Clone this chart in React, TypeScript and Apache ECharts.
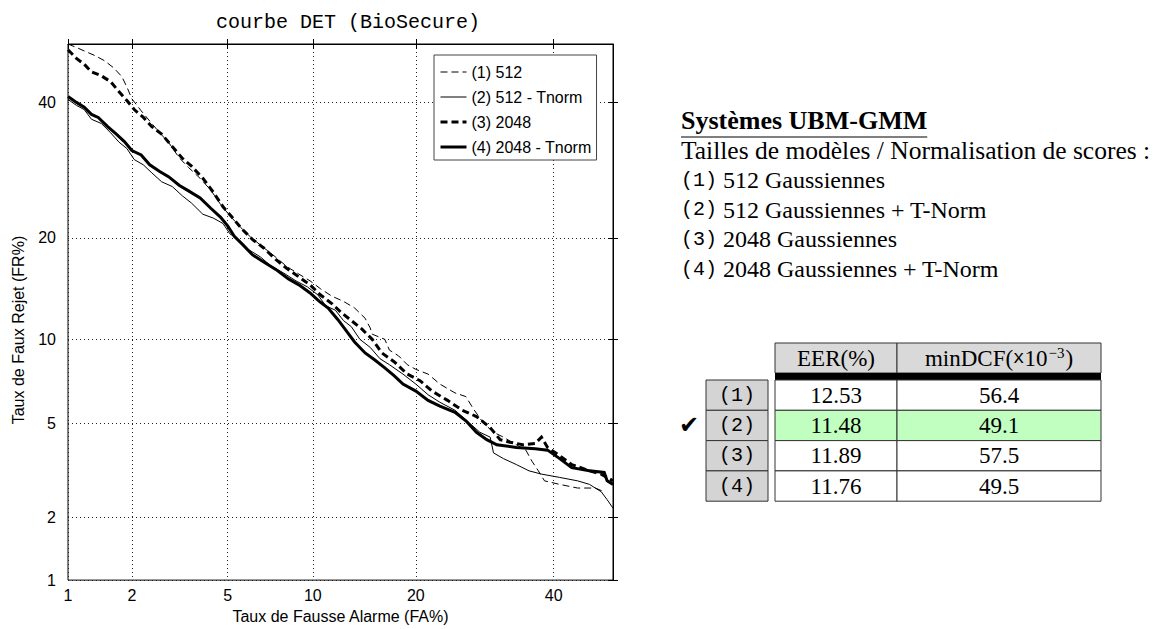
import React, { useEffect, useRef } from "react";
import * as echarts from "echarts";

// ---------- data ----------
const TITLE = "courbe DET (BioSecure)";
const X_NAME = "Taux de Fausse Alarme (FA%)";
const Y_NAME = "Taux de Faux Rejet (FR%)";
const TICKS_PCT = [1, 2, 5, 10, 20, 40];
const AXIS_MIN_PCT = 1;
const AXIS_MAX_PCT = 50;

const SERIES_NAMES = ["(1) 512", "(2) 512 - Tnorm", "(3) 2048", "(4) 2048 - Tnorm"];

// [FA %, FR %]
const CURVE_1 = [[1.0,50.0],[1.1,49.4],[1.2,48.8],[1.35,48.0],[1.5,47.1],[1.65,45.9],[1.8,44.4],[1.9,42.6],[2.0,40.6],[2.2,38.6],[2.4,36.9],[2.65,35.0],[2.9,33.4],[3.2,31.1],[3.5,29.6],[3.9,28.0],[4.3,26.3],[4.7,24.3],[5.1,22.8],[5.6,21.3],[6.1,20.1],[6.7,19.0],[7.4,17.9],[8.2,16.7],[9.0,15.9],[9.8,15.2],[10.6,14.4],[11.5,13.7],[12.5,13.2],[13.5,12.6],[14.5,11.7],[15.0,10.9],[15.2,10.4],[16.5,10.0],[17.0,9.2],[18.0,8.8],[19.0,8.2],[20.0,7.9],[21.5,7.6],[23.0,7.0],[25.0,6.5],[26.5,6.3],[27.5,5.7],[29.0,5.0],[30.5,4.6],[32.0,4.4],[34.0,4.1],[35.5,3.9],[36.5,3.5],[37.5,3.2],[38.5,2.9],[41.0,2.8],[44.0,2.7],[47.0,2.7],[48.5,2.6]];
const CURVE_2 = [[1.0,40.5],[1.1,39.5],[1.2,38.8],[1.3,37.2],[1.45,36.5],[1.6,35.0],[1.75,33.5],[1.9,32.5],[2.05,30.8],[2.25,30.0],[2.45,28.8],[2.7,27.5],[3.0,26.8],[3.3,25.5],[3.6,24.5],[4.0,23.0],[4.4,22.5],[4.8,21.8],[5.1,20.5],[5.5,19.8],[6.0,18.6],[6.6,17.8],[7.2,16.8],[8.0,16.0],[8.8,15.2],[9.6,14.6],[10.4,13.8],[11.0,12.8],[11.8,12.4],[12.5,11.5],[13.2,11.0],[14.0,10.0],[15.0,9.4],[16.0,8.6],[17.0,8.2],[18.5,7.6],[20.0,7.0],[21.5,6.4],[23.0,6.0],[25.0,5.6],[27.0,5.0],[28.5,4.6],[30.0,4.4],[30.5,3.8],[32.0,3.6],[34.0,3.4],[36.0,3.2],[38.0,3.1],[41.0,3.0],[44.0,2.9],[46.0,2.8],[48.0,2.6],[49.0,2.4],[50.0,2.2]];
const CURVE_3 = [[1.0,49.0],[1.1,47.5],[1.2,46.5],[1.3,45.2],[1.45,44.5],[1.6,43.5],[1.75,41.8],[1.9,40.3],[2.05,38.8],[2.25,37.5],[2.45,36.0],[2.7,34.8],[3.0,32.8],[3.3,31.0],[3.6,29.8],[4.0,28.0],[4.4,26.0],[4.8,24.0],[5.2,22.6],[5.7,21.0],[6.2,19.8],[6.8,18.8],[7.5,17.5],[8.2,16.5],[9.0,15.6],[9.8,14.8],[10.6,13.8],[11.5,13.0],[12.3,12.2],[13.2,11.5],[14.2,10.8],[15.2,10.0],[16.2,9.0],[17.5,8.4],[19.0,7.6],[20.5,7.2],[22.0,6.6],[24.0,6.1],[26.0,5.6],[28.0,5.3],[30.0,4.8],[31.5,4.3],[33.0,4.2],[35.0,4.1],[37.0,4.15],[38.0,4.4],[39.0,4.0],[41.0,3.7],[43.0,3.4],[46.0,3.2],[48.0,3.1],[50.0,2.9]];
const CURVE_4 = [[1.0,41.0],[1.1,40.0],[1.2,39.2],[1.3,38.0],[1.4,37.5],[1.55,36.0],[1.7,34.8],[1.85,33.6],[2.0,32.2],[2.2,31.5],[2.4,30.0],[2.65,29.0],[2.9,28.2],[3.2,27.0],[3.5,26.2],[3.9,25.2],[4.3,23.8],[4.7,22.6],[5.0,21.5],[5.3,20.2],[5.7,19.2],[6.2,18.0],[6.8,17.2],[7.5,16.4],[8.3,15.4],[9.0,14.8],[9.8,14.0],[10.5,13.2],[11.2,12.6],[12.0,11.6],[12.8,10.6],[13.5,9.8],[14.5,9.0],[15.5,8.5],[16.5,8.0],[17.5,7.5],[18.5,7.0],[20.0,6.6],[21.5,6.1],[23.0,5.8],[25.0,5.5],[26.5,5.1],[28.0,4.6],[29.5,4.3],[31.0,4.1],[34.0,4.0],[37.0,3.95],[39.0,3.9],[41.0,3.6],[43.0,3.3],[46.0,3.2],[48.5,3.15],[49.0,2.9],[50.0,2.8]];

const PANEL_TITLE = "Systèmes UBM-GMM";
const PANEL_SUBTITLE = "Tailles de modèles / Normalisation de scores :";
const ROW_IDS = ["(1)", "(2)", "(3)", "(4)"];
const ROW_DESC = ["512 Gaussiennes", "512 Gaussiennes + T-Norm", "2048 Gaussiennes", "2048 Gaussiennes + T-Norm"];
const EER_VALUES = ["12.53", "11.48", "11.89", "11.76"];
const MINDCF_VALUES = ["56.4", "49.1", "57.5", "49.5"];
const BEST_ROW = 1;

// ---------- helpers ----------
function probit(p: number): number {
  const a = [-3.969683028665376e1, 2.209460984245205e2, -2.759285104469687e2, 1.38357751867269e2, -3.066479806614716e1, 2.506628277459239];
  const b = [-5.447609879822406e1, 1.615858368580409e2, -1.556989798598866e2, 6.680131188771972e1, -1.328068155288572e1];
  const c = [-7.784894002430293e-3, -3.223964580411365e-1, -2.400758277161838, -2.549732539343734, 4.374664141464968, 2.938163982698783];
  const d = [7.784695709041462e-3, 3.224671290700398e-1, 2.445134137142996, 3.754408661907416];
  const plow = 0.02425;
  if (p < plow) {
    const q = Math.sqrt(-2 * Math.log(p));
    return (((((c[0] * q + c[1]) * q + c[2]) * q + c[3]) * q + c[4]) * q + c[5]) / ((((d[0] * q + d[1]) * q + d[2]) * q + d[3]) * q + 1);
  }
  if (p <= 1 - plow) {
    const q = p - 0.5;
    const r = q * q;
    return ((((((a[0] * r + a[1]) * r + a[2]) * r + a[3]) * r + a[4]) * r + a[5]) * q) / (((((b[0] * r + b[1]) * r + b[2]) * r + b[3]) * r + b[4]) * r + 1);
  }
  const q = Math.sqrt(-2 * Math.log(1 - p));
  return -(((((c[0] * q + c[1]) * q + c[2]) * q + c[3]) * q + c[4]) * q + c[5]) / ((((d[0] * q + d[1]) * q + d[2]) * q + d[3]) * q + 1);
}
const toDev = (pct: number) => probit(pct / 100);

const SANS = "'Liberation Sans', Arial, Helvetica, sans-serif";
const SERIF = "'Liberation Serif', 'Times New Roman', serif";
const MONO = "'Liberation Mono', 'DejaVu Sans Mono', monospace";

function textWidth(text: string, font: string): number {
  const cv = document.createElement("canvas");
  const ctx = cv.getContext("2d");
  if (!ctx) return text.length * 12;
  ctx.font = font;
  return ctx.measureText(text).width;
}

export default function App() {
  const ref = useRef<HTMLDivElement>(null);

  useEffect(() => {
    if (!ref.current) return;
    const chart = echarts.init(ref.current, undefined, { renderer: "svg" });

    const tickPos = TICKS_PCT.map(toDev);
    const fmt = (v: number) => {
      const i = tickPos.findIndex((t) => Math.abs(t - v) < 1e-6);
      return i >= 0 ? String(TICKS_PCT[i]) : "";
    };
    const vmin = toDev(AXIS_MIN_PCT);
    const vmax = toDev(AXIS_MAX_PCT);

    const gridStyle = { show: true, lineStyle: { color: "#222", width: 1, type: [1, 3] as any } };
    const mainAxis = (name: string, isX: boolean) => ({
      type: "value",
      min: vmin,
      max: vmax,
      name,
      nameLocation: "middle",
      nameGap: isX ? 23 : 42,
      nameTextStyle: isX
        ? { fontFamily: SANS, fontSize: 16, color: "#000" }
        : { fontFamily: SANS, fontSize: 16, color: "#000", padding: [0, 36, 0, 0] },
      axisLine: { show: true, lineStyle: { color: "#000", width: 1 } },
      axisTick: { show: true, inside: true, length: 5, customValues: tickPos, lineStyle: { color: "#000" } },
      axisLabel: { customValues: tickPos, formatter: fmt, fontFamily: SANS, fontSize: 16, color: "#000", margin: isX ? 7 : 12 },
      splitLine: gridStyle,
    });
    const sideAxis = (pos: string) => ({
      type: "value",
      min: vmin,
      max: vmax,
      position: pos,
      axisLine: { show: false },
      axisTick: { show: true, inside: true, length: 5, customValues: tickPos, lineStyle: { color: "#000" } },
      axisLabel: { show: false },
      splitLine: { show: false },
    });

    const mk = (data: number[][]) => data.map(([fa, fr]) => [toDev(fa), toDev(fr)]);
    const curves = [CURVE_1, CURVE_2, CURVE_3, CURVE_4];
    const styles = [
      { width: 1, type: [7, 4] },
      { width: 1, type: "solid" },
      { width: 3, type: [7, 4] },
      { width: 3, type: "solid" },
    ];

    const series = curves.map((c, i) => ({
      name: SERIES_NAMES[i],
      type: "line",
      data: mk(c),
      symbol: "none",
      showSymbol: false,
      color: "#000",
      itemStyle: { color: "#000" },
      lineStyle: { color: "#000", width: styles[i].width, type: styles[i].type as any, cap: "butt", join: "miter" },
      z: 3,
    }));

    // ---- right panel graphics ----
    const PX = 681;
    const g: any[] = [];
    g.push({ type: "text", x: 348, y: 22, style: { text: TITLE, font: `20px ${MONO}`, fill: "#000", align: "center", verticalAlign: "middle" } });
    const titleFont = `bold 26px ${SERIF}`;
    g.push({ type: "text", x: PX, y: 120, style: { text: PANEL_TITLE, font: titleFont, fill: "#000", align: "left", verticalAlign: "middle" } });
    const tw = textWidth(PANEL_TITLE, titleFont);
    g.push({ type: "line", shape: { x1: PX, y1: 137, x2: PX + tw, y2: 137 }, style: { stroke: "#000", lineWidth: 1.2 } });
    g.push({ type: "text", x: PX, y: 150, style: { text: PANEL_SUBTITLE, font: `25.5px ${SERIF}`, fill: "#000", align: "left", verticalAlign: "middle" } });
    ROW_IDS.forEach((id, i) => {
      g.push({
        type: "text",
        x: PX,
        y: 180 + i * 29.7,
        style: {
          text: `{m|${id}} ${ROW_DESC[i]}`,
          font: `24px ${SERIF}`,
          fill: "#000",
          align: "left",
          verticalAlign: "middle",
          rich: { m: { fontFamily: MONO, fontSize: 20, fill: "#000" } },
        },
      });
    });

    // table
    const C0 = 706, C1 = 768, C2 = 775, C3 = 897, C4 = 1101;
    const HT = 343, HB = 373, BAR = 380, RH = 30.3;
    const stroke = "#333";
    g.push({ type: "rect", shape: { x: C2, y: HT, width: C3 - C2, height: HB - HT }, style: { fill: "#d9d9d9", stroke, lineWidth: 1 } });
    g.push({ type: "rect", shape: { x: C3, y: HT, width: C4 - C3, height: HB - HT }, style: { fill: "#d9d9d9", stroke, lineWidth: 1 } });
    g.push({ type: "text", x: (C2 + C3) / 2, y: 358, style: { text: "EER(%)", font: `23px ${SERIF}`, fill: "#000", align: "center", verticalAlign: "middle" } });
    g.push({
      type: "text",
      x: (C3 + C4) / 2,
      y: 358,
      style: {
        text: "minDCF({m|x}10{s|−3})",
        font: `23px ${SERIF}`,
        fill: "#000",
        align: "center",
        verticalAlign: "middle",
        rich: {
          m: { fontFamily: MONO, fontSize: 19, fill: "#000" },
          s: { fontFamily: SERIF, fontSize: 15, fill: "#000", verticalAlign: "top", padding: [0, 1, 10, 1] },
        },
      },
    });
    g.push({ type: "rect", shape: { x: C2, y: HB, width: C4 - C2, height: BAR - HB }, style: { fill: "#000" } });
    ROW_IDS.forEach((id, i) => {
      const y0 = BAR + i * RH;
      const fill = i === BEST_ROW ? "#c0ffc0" : "#fff";
      g.push({ type: "rect", shape: { x: C0, y: y0, width: C1 - C0, height: RH }, style: { fill: "#d4d4d4", stroke, lineWidth: 1 } });
      g.push({ type: "rect", shape: { x: C2, y: y0, width: C3 - C2, height: RH }, style: { fill, stroke, lineWidth: 1 } });
      g.push({ type: "rect", shape: { x: C3, y: y0, width: C4 - C3, height: RH }, style: { fill, stroke, lineWidth: 1 } });
      const cy = y0 + RH / 2;
      g.push({ type: "text", x: (C0 + C1) / 2, y: cy, style: { text: id, font: `20px ${MONO}`, fill: "#000", align: "center", verticalAlign: "middle" } });
      g.push({ type: "text", x: (C2 + C3) / 2, y: cy, style: { text: EER_VALUES[i], font: `23px ${SERIF}`, fill: "#000", align: "center", verticalAlign: "middle" } });
      g.push({ type: "text", x: (C3 + C4) / 2, y: cy, style: { text: MINDCF_VALUES[i], font: `23px ${SERIF}`, fill: "#000", align: "center", verticalAlign: "middle" } });
      if (i === BEST_ROW) {
        g.push({ type: "text", x: 689, y: cy, style: { text: "✔", font: `24px 'DejaVu Sans', sans-serif`, fill: "#000", align: "center", verticalAlign: "middle" } });
      }
    });

    chart.setOption({
      animation: false,
      backgroundColor: "#fff",
      grid: { left: 68, top: 44, width: 545, height: 539, show: true, borderColor: "#000", borderWidth: 1, backgroundColor: "#fff", containLabel: false },
      xAxis: [mainAxis(X_NAME, true), sideAxis("top")],
      yAxis: [mainAxis(Y_NAME, false), sideAxis("right")],
      legend: {
        orient: "vertical",
        left: 434,
        top: 55,
        padding: [9, 5, 5, 5],
        itemGap: 9,
        itemWidth: 26,
        itemHeight: 16,
        backgroundColor: "#fff",
        borderColor: "#444",
        borderWidth: 1,
        selectedMode: false,
        itemStyle: { opacity: 0 },
        lineStyle: { width: "inherit", type: "inherit", color: "#000" },
        textStyle: { fontFamily: SANS, fontSize: 16, color: "#000" },
        data: SERIES_NAMES,
      },
      series,
      graphic: g,
    });

    return () => chart.dispose();
  }, []);

  return <div ref={ref} style={{ position: "fixed", left: 0, top: 0, width: 1159, height: 629, background: "#fff" }} />;
}
